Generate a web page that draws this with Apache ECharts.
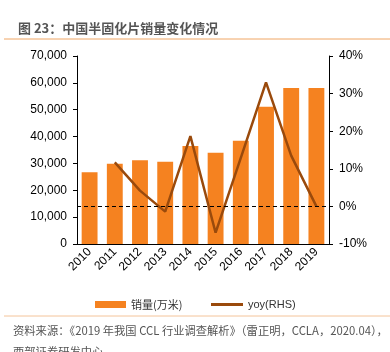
<!DOCTYPE html>
<html lang="zh">
<head>
  <meta charset="UTF-8">
  <title>中国半固化片销量变化情况</title>
  <script src="https://cdn.jsdelivr.net/npm/echarts@6/dist/echarts.min.js"></script>
  <style>
    * { margin: 0; padding: 0; }
    body { background: #fff; }
    #chart { width: 390px; height: 352px; }
  </style>
</head>
<body>
  <div id="chart"></div>
  <script>
    const years = ['2010', '2011', '2012', '2013', '2014', '2015', '2016', '2017', '2018', '2019']
    const sales = [26700, 29900, 31200, 30600, 36500, 34000, 38400, 51100, 58100, 58100] // 万米
    const yoy = [null, 11.7, 4.2, -1.4, 18.7, -7.0, 12.9, 33.0, 13.5, 0.0] // %
    const leftTicks = [0, 70000, 10000]   // min, max, interval
    const rightTicks = [-10, 40, 10]

    const cjk = '"Noto Sans CJK SC", sans-serif'
    const latin = '"Liberation Sans", Arial, sans-serif'

    var chart = echarts.init(document.getElementById('chart'))
    var option = {
      animation: false,
      title: {
        text: '图 23：中国半固化片销量变化情况',
        left: 13, top: 17,
        textStyle: { fontFamily: cjk, fontSize: 13, fontWeight: 'bold', color: '#555' }
      },
      grid: { left: 77, right: 61, top: 56, bottom: 108 },
      legend: [
        {
          data: ['销量(万米)'], left: 90, top: 294,
          itemWidth: 31, itemHeight: 7, icon: 'rect',
          textStyle: { fontFamily: cjk, fontSize: 11, color: '#333' }
        },
        {
          data: ['yoy(RHS)'], left: 206, top: 294,
          itemWidth: 32, itemHeight: 3, icon: 'rect',
          textStyle: { fontFamily: latin, fontSize: 11, color: '#333' }
        }
      ],
      xAxis: {
        type: 'category',
        data: years,
        axisLine: { lineStyle: { color: '#000' } },
        axisTick: { alignWithLabel: false, length: 4, lineStyle: { color: '#000' } },
        axisLabel: { rotate: 45, margin: 6, fontFamily: latin, fontSize: 12, color: '#000' }
      },
      yAxis: [
        {
          type: 'value', min: leftTicks[0], max: leftTicks[1], interval: leftTicks[2],
          splitLine: { show: false },
          axisLine: { show: true, lineStyle: { color: '#000' } },
          axisTick: { show: true, length: 4, lineStyle: { color: '#000' } },
          axisLabel: {
            margin: 10, fontFamily: latin, fontSize: 12, color: '#000',
            formatter: v => v.toLocaleString('en-US')
          }
        },
        {
          type: 'value', min: rightTicks[0], max: rightTicks[1], interval: rightTicks[2],
          splitLine: { show: false },
          axisLine: { show: true, lineStyle: { color: '#000' } },
          axisTick: { show: true, length: 4, lineStyle: { color: '#000' } },
          axisLabel: {
            margin: 10, fontFamily: latin, fontSize: 12, color: '#000',
            formatter: '{value}%'
          }
        }
      ],
      series: [
        {
          name: '销量(万米)', type: 'bar', data: sales,
          barWidth: '63%',
          itemStyle: { color: '#F58220' }
        },
        {
          name: 'yoy(RHS)', type: 'line', yAxisIndex: 1, data: yoy,
          showSymbol: false, symbol: 'none',
          lineStyle: { color: '#9A4A0C', width: 2.5 },
          itemStyle: { color: '#9A4A0C' },
          markLine: {
            silent: true, symbol: 'none', label: { show: false },
            lineStyle: { color: '#000', type: [4, 3], width: 1 },
            data: [{ yAxis: 0 }]
          }
        }
      ],
      graphic: [
        { type: 'line', shape: { x1: 4, y1: 39, x2: 390, y2: 39 }, style: { stroke: '#F0A664', lineWidth: 1 } },
        { type: 'line', shape: { x1: 4, y1: 316, x2: 390, y2: 316 }, style: { stroke: '#F4C49A', lineWidth: 1 } },
        {
          type: 'text', left: 13, top: 325,
          style: { text: '资料来源：《2019 年我国 CCL 行业调查解析》（雷正明，CCLA，2020.04），', font: '11.3px ' + cjk, fill: '#555' }
        },
        {
          type: 'text', left: 13, top: 346,
          style: { text: '西部证券研发中心', font: '11.3px ' + cjk, fill: '#555' }
        }
      ]
    }
    chart.setOption(option)
  </script>
</body>
</html>
